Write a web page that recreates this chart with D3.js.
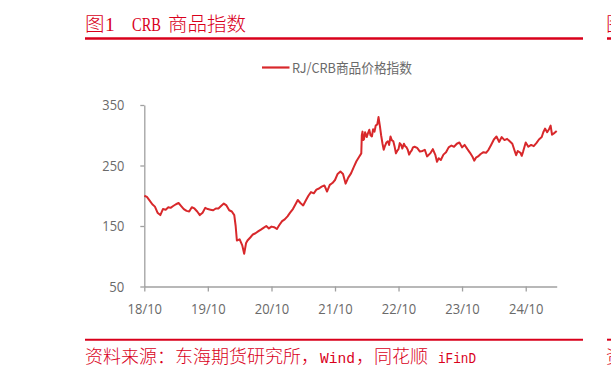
<!DOCTYPE html>
<html>
<head>
<meta charset="utf-8">
<script src="https://cdn.jsdelivr.net/npm/d3@7"></script>
<style>
html,body{margin:0;padding:0;background:#fff;}
svg{display:block;}
</style>
</head>
<body>
<svg id="chart" width="611" height="372"></svg>
<script>
// ---- data ----
const seriesName = "RJ/CRB商品价格指数";
const yTicks = [50, 150, 250, 350];
const xTickDates = ["2018-10-01","2019-10-01","2020-10-01","2021-10-01","2022-10-01","2023-10-01","2024-10-01"];
const xTickLabels = ["18/10","19/10","20/10","21/10","22/10","23/10","24/10"];
const dates = [
"2018-10-01","2018-10-16","2018-11-01","2018-11-16","2018-12-01","2018-12-16",
"2019-01-01","2019-01-16","2019-02-01","2019-02-16","2019-03-01","2019-03-16","2019-04-01","2019-04-16","2019-05-01","2019-05-16","2019-06-01","2019-06-16",
"2019-07-01","2019-07-16","2019-08-01","2019-08-16","2019-09-01","2019-09-16","2019-10-01","2019-10-16","2019-11-01","2019-11-16","2019-12-01","2019-12-16",
"2020-01-01","2020-01-16","2020-02-01","2020-02-16","2020-03-01","2020-03-09","2020-03-16","2020-04-01","2020-04-16","2020-04-27","2020-05-08","2020-05-16",
"2020-06-01","2020-06-16","2020-07-01","2020-07-16","2020-08-01","2020-08-16","2020-09-01","2020-09-16","2020-10-01","2020-10-16","2020-11-01","2020-11-16","2020-12-01","2020-12-16",
"2021-01-01","2021-01-16","2021-02-01","2021-02-16","2021-03-01","2021-03-16","2021-04-01","2021-04-16","2021-05-01","2021-05-16","2021-06-01","2021-06-16",
"2021-07-01","2021-07-16","2021-08-01","2021-08-16","2021-09-01","2021-09-16","2021-10-01","2021-10-16","2021-11-01","2021-11-16","2021-12-01","2021-12-16",
"2022-01-01","2022-01-16","2022-02-01","2022-02-16","2022-03-01","2022-03-04","2022-03-08","2022-03-11","2022-03-16","2022-03-23",
"2022-04-01","2022-04-08","2022-04-16","2022-04-23","2022-05-01","2022-05-08","2022-05-16","2022-05-23","2022-06-01","2022-06-08","2022-06-16","2022-06-23",
"2022-07-01","2022-07-08","2022-07-16","2022-07-23","2022-08-01","2022-08-08","2022-08-16","2022-08-23","2022-09-01","2022-09-08","2022-09-16","2022-09-23",
"2022-10-01","2022-10-08","2022-10-16","2022-10-23","2022-11-01","2022-11-08","2022-11-16","2022-11-23","2022-12-01","2022-12-08","2022-12-16","2022-12-23",
"2023-01-01","2023-01-16","2023-02-01","2023-02-16","2023-03-01","2023-03-14","2023-04-01","2023-04-16","2023-05-01","2023-05-10","2023-05-20","2023-06-01","2023-06-16",
"2023-07-01","2023-07-16","2023-08-01","2023-08-16","2023-09-01","2023-09-16","2023-10-01","2023-10-16","2023-11-01","2023-11-16","2023-12-01","2023-12-10","2023-12-20",
"2024-01-01","2024-01-16","2024-02-01","2024-02-16","2024-03-01","2024-03-16","2024-04-01","2024-04-16","2024-05-01","2024-05-16","2024-06-01","2024-06-16",
"2024-07-01","2024-07-16","2024-08-01","2024-08-07","2024-08-16","2024-09-01","2024-09-08","2024-09-16","2024-10-01","2024-10-16","2024-11-01","2024-11-16","2024-12-01","2024-12-16",
"2025-01-01","2025-01-10","2025-01-20","2025-02-01","2025-02-12","2025-02-21","2025-03-01","2025-03-16","2025-03-28"
];
const values = [
200,198,192,186,182,172,
168,178,177,181,180,183,186,188,183,178,175,174,
181,179,174,168,172,180,178,177,176,179,179,183,
187,184,176,174,168,150,126,128,118,104,122,126,
131,136,138,141,144,147,150,146,149,148,145,152,158,161,
166,172,178,186,193,188,184,192,200,206,204,210,
212,215,217,207,218,221,226,236,240,236,220,230,
237,247,257,264,270,300,306,292,293,305,
297,303,309,300,298,310,306,316,318,330,315,300,
286,276,283,288,290,284,298,292,290,282,270,274,
277,287,284,278,286,282,280,276,268,272,275,280,
281,279,273,274,276,265,270,277,267,256,262,259,268,
272,280,283,281,286,288,280,284,277,271,264,258,263,
265,269,272,271,276,284,293,298,289,297,292,294,
290,286,272,267,274,271,266,273,288,281,284,282,287,293,
297,305,311,305,310,316,301,304,307
];

// ---- layout ----
const svg = d3.select("#chart");
const red = "#d9001b";
const lineColor = "#d8282b";
const axisColor = "#a0a0a0";
const textColor = "#6a6a6a";
const cjk = "'Noto Sans CJK SC'";
const parse = d3.utcParse("%Y-%m-%d");
const data = dates.map((d, i) => ({date: parse(d), value: values[i]}));

const x = d3.scaleUtc()
  .domain([parse(dates[0]), parse(dates[dates.length - 1])])
  .range([144.3, 556.7]);
const y = d3.scaleLinear().domain([50, 350]).range([286.5, 105]);

function txt(s, xx, yy, fam, size, fill, len, weight) {
  const t = svg.append("text").attr("x", xx).attr("y", yy)
    .attr("font-family", fam).attr("font-size", size).attr("fill", fill)
    .attr("font-weight", weight || 300).text(s);
  if (len) t.attr("textLength", len).attr("lengthAdjust", "spacingAndGlyphs");
  return t;
}

// Title
txt("图", 85, 31, cjk, 19.5, red);
txt("1", 105, 31, "'Liberation Serif'", 19.5, red, null, 400);
txt("CRB", 132, 31, "'Liberation Serif'", 19.5, red, 29, 400);
txt("商品指数", 168, 31, cjk, 19.5, red);
svg.append("line").attr("x1", 85).attr("x2", 583).attr("y1", 38.5).attr("y2", 38.5)
  .attr("stroke", red).attr("stroke-width", 2.5);
// neighbouring panel edge (cut off at right as in the reference)
txt("图", 606, 31, cjk, 19.5, red);
svg.append("line").attr("x1", 607).attr("x2", 611).attr("y1", 38.5).attr("y2", 38.5)
  .attr("stroke", red).attr("stroke-width", 2.5);

// Legend
svg.append("line").attr("x1", 262).attr("x2", 289.5).attr("y1", 67.5).attr("y2", 67.5)
  .attr("stroke", lineColor).attr("stroke-width", 2.2);
txt(seriesName, 292, 72.5, cjk, 13.5, textColor, 120, 400);

// Y axis
const yAxis = d3.axisLeft(y).tickValues(yTicks).tickSize(4).tickSizeOuter(0).tickPadding(16);
const gy = svg.append("g").attr("transform", "translate(144.3,0)").call(yAxis);
gy.select(".domain").attr("stroke", axisColor).attr("stroke-width", 1.3);
gy.selectAll(".tick line").attr("stroke", axisColor).attr("stroke-width", 1.3);
gy.selectAll(".tick text").attr("fill", textColor)
  .attr("font-family", "'Open Sans'").attr("font-size", 15)
  .attr("textLength", d => d === 50 ? 15 : 22).attr("lengthAdjust", "spacingAndGlyphs");

// X axis
const xAxis = d3.axisBottom(x).tickValues(xTickDates.map(parse))
  .tickFormat((d, i) => xTickLabels[i]).tickSize(5).tickSizeOuter(0).tickPadding(12);
const gx = svg.append("g").attr("transform", "translate(0,286.5)").call(xAxis);
gx.select(".domain").attr("stroke", axisColor).attr("stroke-width", 1.3);
gx.selectAll(".tick line").attr("stroke", axisColor).attr("stroke-width", 1.3);
gx.selectAll(".tick text").attr("fill", textColor)
  .attr("font-family", "'Open Sans'").attr("font-size", 15)
  .attr("textLength", 34.5).attr("lengthAdjust", "spacingAndGlyphs");

// Line
const line = d3.line().x(d => x(d.date)).y(d => y(d.value));
svg.append("path").datum(data).attr("d", line)
  .attr("fill", "none").attr("stroke", lineColor).attr("stroke-width", 2)
  .attr("stroke-linejoin", "round");

// Source
svg.append("line").attr("x1", 85).attr("x2", 583).attr("y1", 339.7).attr("y2", 339.7)
  .attr("stroke", red).attr("stroke-width", 2);
svg.append("line").attr("x1", 607).attr("x2", 611).attr("y1", 339.7).attr("y2", 339.7)
  .attr("stroke", red).attr("stroke-width", 2);
txt("资料来源：东海期货研究所，", 85, 363, cjk, 18, red);
txt("Wind", 320, 363, "'Liberation Mono'", 15, red, 35, 400);
txt("，同花顺", 356, 363, cjk, 18, red);
txt("iFinD", 438, 363, "'Liberation Mono'", 15, red, 38, 400);
txt("资", 606, 363, cjk, 18, red);
</script>
</body>
</html>
